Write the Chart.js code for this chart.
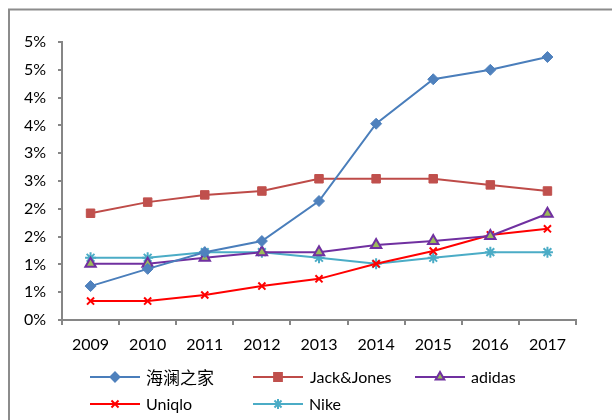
<!DOCTYPE html>
<html>
<head>
<meta charset="utf-8">
<script src="https://cdn.jsdelivr.net/npm/chart.js@4/dist/chart.umd.min.js"></script>
<style>
html,body{margin:0;padding:0;background:#fff;}
canvas{display:block;}
</style>
</head>
<body>
<canvas id="c" width="612" height="420"></canvas>
<script>
const categories = ['2009','2010','2011','2012','2013','2014','2015','2016','2017'];
const hailan = [0.61,0.92,1.22,1.42,2.14,3.53,4.33,4.50,4.73];
const jackJones = [1.92,2.12,2.25,2.32,2.54,2.54,2.54,2.43,2.32];
const adidas = [1.01,1.01,1.12,1.22,1.22,1.35,1.42,1.51,1.91];
const uniqlo = [0.34,0.34,0.45,0.61,0.74,1.01,1.24,1.53,1.64];
const nike = [1.12,1.12,1.22,1.22,1.12,1.01,1.12,1.22,1.22];
const yTickLabels = ['0%','1%','1%','2%','2%','3%','3%','4%','4%','5%','5%'];
const seriesNames = ['海澜之家','Jack&Jones','adidas','Uniqlo','Nike'];

const FONT = "Lato, 'Liberation Sans', sans-serif";
const AXIS = '#868686';

function ds(label, data, color, style, radius, fill, border, bw, legendRadius) {
  return {
    label, data,
    borderColor: color, borderWidth: 2,
    pointStyle: style, pointRadius: radius, pointHoverRadius: radius,
    pointBackgroundColor: fill, pointBorderColor: border, pointBorderWidth: bw,
    tension: 0, fill: false, legendRadius
  };
}

const datasets = [
  ds(seriesNames[0], hailan, '#4A7EBB', 'rectRot', 5.5, '#4F81BD', '#4F81BD', 1, 4.5),
  ds(seriesNames[1], jackJones, '#BE4B48', 'rect', 6, '#C0504D', '#C0504D', 1, 5.5),
  ds(seriesNames[2], adidas, '#7030A0', 'triangle', 6, '#9BBB59', '#7030A0', 2, 5),
  ds(seriesNames[3], uniqlo, '#FF0000', 'crossRot', 5, '#FF0000', '#FF0000', 2, 5),
  ds(seriesNames[4], nike, '#4BACC6', 'star', 5.5, '#4BACC6', '#4BACC6', 2, 5)
];

const frame = {
  id: 'frame',
  afterDraw(chart) {
    const ctx = chart.ctx;
    ctx.save();
    ctx.strokeStyle = '#8c8c8c';
    ctx.lineWidth = 2;
    ctx.beginPath();
    ctx.moveTo(9, 430);
    ctx.lineTo(9, 9.5);
    ctx.lineTo(620, 9.5);
    ctx.stroke();
    ctx.restore();
  }
};

const customLegend = {
  id: 'customLegend',
  afterDraw(chart) {
    const ctx = chart.ctx;
    const pos = [
      {x: 90, y: 377, tx: 146},
      {x: 253, y: 377, tx: 310},
      {x: 415, y: 377, tx: 471},
      {x: 90, y: 404, tx: 146},
      {x: 253, y: 404, tx: 309}
    ];
    chart.data.datasets.forEach((d, i) => {
      const p = pos[i];
      ctx.save();
      ctx.strokeStyle = d.borderColor;
      ctx.lineWidth = 2;
      ctx.beginPath();
      ctx.moveTo(p.x, p.y);
      ctx.lineTo(p.x + 50, p.y);
      ctx.stroke();
      ctx.fillStyle = d.pointBackgroundColor;
      ctx.strokeStyle = d.pointBorderColor;
      if (Chart.helpers && Chart.helpers.drawPoint) {
        Chart.helpers.drawPoint(ctx, {pointStyle: d.pointStyle, radius: d.legendRadius, borderWidth: d.pointBorderWidth, rotation: 0}, p.x + 25, p.y);
      }
      ctx.restore();
      ctx.save();
      ctx.fillStyle = '#000';
      ctx.textBaseline = 'middle';
      ctx.font = i === 0 ? "17px 'Noto Sans CJK SC', sans-serif" : "16px " + FONT;
      ctx.fillText(d.label, p.tx, p.y + 1);
      ctx.restore();
    });
  }
};

new Chart(document.getElementById('c'), {
  type: 'line',
  data: { labels: categories, datasets },
  options: {
    responsive: false,
    animation: false,
    devicePixelRatio: 1,
    layout: { padding: { top: 42, right: 36, left: 0, bottom: 0 } },
    plugins: { legend: { display: false }, tooltip: { enabled: false } },
    scales: {
      x: {
        type: 'category',
        offset: true,
        grid: { offset: true, drawOnChartArea: false, drawTicks: true, tickLength: 5, color: AXIS, lineWidth: 2 },
        border: { color: AXIS, width: 2 },
        ticks: { color: '#000', font: { family: FONT, size: 16 }, padding: 10, maxRotation: 0, autoSkip: false },
        afterFit(s) { s.height = 100; }
      },
      y: {
        min: 0, max: 5,
        grid: { drawOnChartArea: false, drawTicks: true, tickLength: 4, color: AXIS, lineWidth: 2 },
        border: { color: AXIS, width: 2 },
        ticks: {
          stepSize: 0.5, color: '#000', font: { family: FONT, size: 16 }, padding: 12,
          callback: (v, i) => yTickLabels[i]
        },
        afterFit(s) { s.width = 62; }
      }
    }
  },
  plugins: [frame, customLegend]
});
</script>
</body>
</html>
